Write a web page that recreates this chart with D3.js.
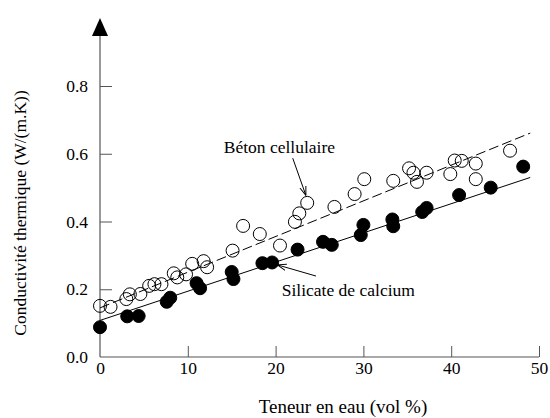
<!DOCTYPE html>
<html>
<head>
<meta charset="utf-8">
<script src="https://cdn.jsdelivr.net/npm/d3@7"></script>
<style>
html,body{margin:0;padding:0;background:#fff;}
svg{display:block;}
</style>
</head>
<body>
<svg id="chart" width="550" height="418"></svg>
<script>
// ---- Data ----
const xTicks = [0, 10, 20, 30, 40, 50];
const yTicks = [0.0, 0.2, 0.4, 0.6, 0.8];
const xTitle = "Teneur en eau (vol %)";
const yTitle = "Conductivité thermique (W/(m.K))";

// Béton cellulaire (open circles)
const betonX = [0.0, 1.2, 3.0, 3.4, 4.6, 5.6, 6.2, 7.0, 8.4, 8.8, 9.8, 10.5, 11.8, 12.2, 15.1, 16.3, 18.2, 20.5, 22.2, 22.7, 23.6, 26.7, 29.0, 30.1, 33.4, 35.2, 35.7, 36.1, 37.2, 39.9, 40.4, 41.2, 42.8, 42.8, 46.7];
const betonY = [0.151, 0.148, 0.171, 0.185, 0.186, 0.210, 0.215, 0.215, 0.247, 0.235, 0.244, 0.275, 0.283, 0.265, 0.314, 0.387, 0.363, 0.329, 0.399, 0.424, 0.455, 0.443, 0.481, 0.525, 0.520, 0.557, 0.544, 0.517, 0.544, 0.540, 0.580, 0.579, 0.571, 0.525, 0.609];

// Silicate de calcium (filled circles)
const silicateX = [0.0, 3.1, 4.4, 7.6, 8.0, 11.0, 11.4, 15.0, 15.2, 18.5, 19.6, 22.5, 25.4, 26.4, 29.7, 30.0, 33.3, 33.4, 36.7, 37.2, 40.9, 44.5, 48.2];
const silicateY = [0.088, 0.120, 0.121, 0.163, 0.175, 0.218, 0.203, 0.251, 0.230, 0.277, 0.279, 0.317, 0.340, 0.331, 0.360, 0.390, 0.406, 0.386, 0.428, 0.440, 0.478, 0.500, 0.562];

// Fitted lines (endpoints, data units)
const betonFitX = [0, 49];
const betonFitY = [0.145, 0.661];
const silicateFitX = [0, 49];
const silicateFitY = [0.108, 0.530];

// Annotations (data units)
const labels = ["Béton cellulaire", "Silicate de calcium"];
const labelX = [14.1, 20.7];
const labelY = [0.602, 0.179];
const arrowFromX = [21.95, 24.6];
const arrowFromY = [0.587, 0.239];
const arrowToX = [23.45, 20.2];
const arrowToY = [0.477, 0.272];

// ---- Drawing ----
const FONT = '"Liberation Serif", "Times New Roman", Times, "Nimbus Roman", "DejaVu Serif", serif';
const svg = d3.select("#chart");
const x = d3.scaleLinear().domain([0, 50]).range([100, 539]);
const y = d3.scaleLinear().domain([0, 0.8]).range([357, 86]);
const axisColor = "#555";
const fontSize = "17.5px";

// arrowhead marker (open V)
svg.append("defs").append("marker")
  .attr("id", "arr").attr("viewBox", "0 0 10 10")
  .attr("refX", 10).attr("refY", 5)
  .attr("markerWidth", 9).attr("markerHeight", 9)
  .attr("markerUnits", "userSpaceOnUse")
  .attr("orient", "auto")
  .append("path").attr("d", "M0,1.5 L10,5 L0,8.5")
  .attr("fill", "none").attr("stroke", "#000").attr("stroke-width", 1.1);

// X axis
const xAxis = d3.axisBottom(x).tickValues(xTicks).tickSize(-11).tickSizeOuter(0).tickPadding(5)
  .tickFormat(d3.format("d"));
const gx = svg.append("g").attr("transform", `translate(0,${y(0)})`).call(xAxis)
  .attr("font-family", null).attr("font-size", null);
gx.select(".domain").remove();
gx.selectAll(".tick line").attr("stroke", axisColor).filter(d => d === 0).remove();
gx.selectAll("text").style("font-size", fontSize).style("font-family", FONT).attr("fill", "#000");

// Y axis
const yAxis = d3.axisLeft(y).tickValues(yTicks).tickSize(-12).tickSizeOuter(0).tickPadding(12)
  .tickFormat(d3.format(".1f"));
const gy = svg.append("g").attr("transform", `translate(${x(0)},0)`).call(yAxis)
  .attr("font-family", null).attr("font-size", null);
gy.select(".domain").remove();
gy.selectAll(".tick line").attr("stroke", axisColor).filter(d => d === 0).remove();
gy.selectAll("text").style("font-size", fontSize).style("font-family", FONT).attr("fill", "#000");

// axis lines
svg.append("line").attr("x1", x(0)).attr("x2", x(50)).attr("y1", y(0)).attr("y2", y(0))
  .attr("stroke", axisColor).attr("stroke-width", 1.2);
svg.append("line").attr("x1", x(0)).attr("x2", x(0)).attr("y1", y(0)).attr("y2", 36)
  .attr("stroke", axisColor).attr("stroke-width", 1.2);
// arrow on top of y axis
svg.append("path")
  .attr("d", `M${x(0)},18 L${x(0) + 8},36 L${x(0) - 8},36 Z`)
  .attr("fill", "#000");

// fitted lines
const line = d3.line().x(d => x(d[0])).y(d => y(d[1]));
svg.append("path").datum(d3.zip(betonFitX, betonFitY)).attr("d", line)
  .attr("fill", "none").attr("stroke", "#000").attr("stroke-width", 1)
  .attr("stroke-dasharray", "10,4");
svg.append("path").datum(d3.zip(silicateFitX, silicateFitY)).attr("d", line)
  .attr("fill", "none").attr("stroke", "#000").attr("stroke-width", 1);

// points
svg.append("g").selectAll("circle").data(d3.zip(betonX, betonY)).join("circle")
  .attr("cx", d => x(d[0])).attr("cy", d => y(d[1])).attr("r", 6.5)
  .attr("fill", "none").attr("stroke", "#000").attr("stroke-width", 1);
svg.append("g").selectAll("circle").data(d3.zip(silicateX, silicateY)).join("circle")
  .attr("cx", d => x(d[0])).attr("cy", d => y(d[1])).attr("r", 6.5)
  .attr("fill", "#000").attr("stroke", "#000").attr("stroke-width", 1);

// annotations
labels.forEach((t, i) => {
  svg.append("text").attr("x", x(labelX[i])).attr("y", y(labelY[i]))
    .style("font-size", fontSize).style("font-family", FONT).attr("fill", "#000").text(t);
  svg.append("line")
    .attr("x1", x(arrowFromX[i])).attr("y1", y(arrowFromY[i]))
    .attr("x2", x(arrowToX[i])).attr("y2", y(arrowToY[i]))
    .attr("stroke", "#000").attr("stroke-width", 1)
    .attr("marker-end", "url(#arr)");
});

// axis titles
svg.append("text").attr("x", 343).attr("y", 413).attr("text-anchor", "middle")
  .style("font-size", "19px").style("font-family", FONT).attr("fill", "#000").text(xTitle);
svg.append("text").attr("transform", "translate(26,213) rotate(-90)")
  .attr("text-anchor", "middle").style("font-size", fontSize).style("font-family", FONT)
  .attr("fill", "#000").text(yTitle);
</script>
</body>
</html>
